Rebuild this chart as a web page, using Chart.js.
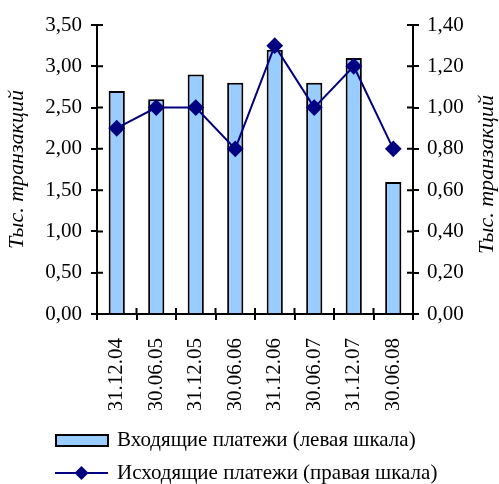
<!DOCTYPE html>
<html>
<head>
<meta charset="utf-8">
<script src="https://cdn.jsdelivr.net/npm/chart.js@4/dist/chart.umd.min.js"></script>
<style>
  html, body { margin: 0; padding: 0; background: #fff; }
  #wrap { width: 499px; height: 484px; }
</style>
</head>
<body>
<div id="wrap"><canvas id="chart"></canvas></div>
<script>
const dates = ['31.12.04', '30.06.05', '31.12.05', '30.06.06', '31.12.06', '30.06.07', '31.12.07', '30.06.08'];
const incoming = [2.7, 2.6, 2.9, 2.8, 3.2, 2.8, 3.1, 1.6];
const outgoing = [0.9, 1.0, 1.0, 0.8, 1.3, 1.0, 1.2, 0.8];
const incomingLabel = 'Входящие платежи (левая шкала)';
const outgoingLabel = 'Исходящие платежи (правая шкала)';
const axisTitle = 'Тыс. транзакций';

const FONT = 'Liberation Serif, Times New Roman, serif';
const comma = v => v.toFixed(2).replace('.', ',');

// ticks that cross the axis lines (inner half) + right title read bottom-to-top
const innerTicks = {
  id: 'innerTicks',
  afterDraw(chart) {
    const {ctx, chartArea, scales} = chart;
    ctx.save();
    ctx.strokeStyle = '#000';
    ctx.lineWidth = 2;
    ctx.beginPath();
    scales.y.ticks.forEach((t, i) => {
      const y = scales.y.getPixelForTick(i);
      ctx.moveTo(chartArea.left, y); ctx.lineTo(chartArea.left + 6, y);
    });
    scales.y1.ticks.forEach((t, i) => {
      const y = scales.y1.getPixelForTick(i);
      ctx.moveTo(chartArea.right, y); ctx.lineTo(chartArea.right - 6, y);
    });
    for (let i = 1; i < dates.length; i++) {
      const x = (scales.x.getPixelForTick(i) + scales.x.getPixelForTick(i - 1)) / 2;
      ctx.moveTo(x, chartArea.bottom); ctx.lineTo(x, chartArea.bottom - 6);
    }
    ctx.stroke();

    ctx.translate(scales.y1.right - 12, (chartArea.top + chartArea.bottom) / 2 + 5);
    ctx.rotate(-Math.PI / 2);
    ctx.font = 'italic 22px ' + FONT;
    ctx.fillStyle = '#000';
    ctx.textAlign = 'center';
    ctx.textBaseline = 'middle';
    ctx.fillText(axisTitle, 0, 0);
    ctx.restore();
  }
};

// legend drawn below the axis, one item per row
const legendRows = {
  id: 'legendRows',
  afterDraw(chart) {
    const ctx = chart.ctx;
    ctx.save();
    ctx.font = '21px ' + FONT;
    ctx.textBaseline = 'middle';
    // bar item
    ctx.fillStyle = '#99CCFF';
    ctx.fillRect(56, 435, 52, 11);
    ctx.strokeStyle = '#000';
    ctx.lineWidth = 2;
    ctx.strokeRect(56, 435, 52, 11);
    ctx.fillStyle = '#000';
    ctx.fillText(incomingLabel, 117, 440);
    // line item
    ctx.strokeStyle = '#000080';
    ctx.beginPath();
    ctx.moveTo(55, 473); ctx.lineTo(108, 473);
    ctx.stroke();
    ctx.fillStyle = '#000080';
    ctx.beginPath();
    ctx.moveTo(81.5, 466); ctx.lineTo(88.5, 473); ctx.lineTo(81.5, 480); ctx.lineTo(74.5, 473);
    ctx.closePath();
    ctx.fill();
    ctx.fillStyle = '#000';
    ctx.fillText(outgoingLabel, 117, 473);
    ctx.restore();
  }
};

new Chart(document.getElementById('chart'), {
  data: {
    labels: dates,
    datasets: [
      {
        type: 'line',
        label: outgoingLabel,
        data: outgoing,
        yAxisID: 'y1',
        borderColor: '#000080',
        backgroundColor: '#000080',
        borderWidth: 2,
        pointStyle: 'rectRot',
        pointRadius: 7,
        pointHoverRadius: 7,
        tension: 0,
        order: 0
      },
      {
        type: 'bar',
        label: incomingLabel,
        data: incoming,
        yAxisID: 'y',
        backgroundColor: '#99CCFF',
        borderColor: '#000',
        borderWidth: 2,
        barPercentage: 0.41,
        categoryPercentage: 1,
        order: 1
      }
    ]
  },
  options: {
    responsive: true,
    maintainAspectRatio: false,
    animation: false,
    layout: { padding: { top: 25, bottom: 74, left: 0, right: 0 } },
    plugins: {
      legend: { display: false },
      tooltip: { enabled: false }
    },
    scales: {
      x: {
        offset: true,
        grid: { display: true, drawOnChartArea: false, offset: true, tickLength: 6, color: '#000', lineWidth: 2 },
        border: { display: true, color: '#000', width: 2 },
        ticks: { minRotation: 90, maxRotation: 90, padding: 18, color: '#000', font: { family: FONT, size: 21 } },
        afterFit: s => { s.height = 96; }
      },
      y: {
        position: 'left',
        min: 0, max: 3.5,
        ticks: { stepSize: 0.5, padding: 9, color: '#000', font: { family: FONT, size: 21 }, callback: v => comma(v) },
        grid: { drawOnChartArea: false, tickLength: 6, color: '#000', lineWidth: 2 },
        border: { display: true, color: '#000', width: 2 },
        title: { display: true, text: axisTitle, color: '#000', padding: { top: 4, bottom: 0 }, font: { family: FONT, size: 22, style: 'italic' } },
        afterFit: s => { s.width = 97; }
      },
      y1: {
        position: 'right',
        min: 0, max: 1.4,
        ticks: { stepSize: 0.2, padding: 8, color: '#000', font: { family: FONT, size: 21 }, callback: v => comma(v) },
        grid: { drawOnChartArea: false, tickLength: 6, color: '#000', lineWidth: 2 },
        border: { display: true, color: '#000', width: 2 },
        title: { display: false },
        afterFit: s => { s.width = 86; }
      }
    }
  },
  plugins: [innerTicks, legendRows]
});
</script>
</body>
</html>
